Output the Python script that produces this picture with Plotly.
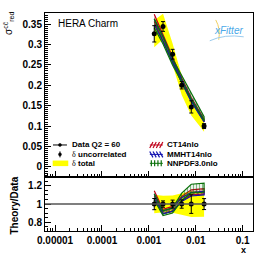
import plotly.graph_objects as go
import numpy as np

# ---------------- data ----------------
x_vals = [0.0013, 0.002, 0.0032, 0.005, 0.008, 0.015]
data_sigma = [0.326, 0.344, 0.276, 0.200, 0.147, 0.100]
err_uncorr = [0.020, 0.012, 0.012, 0.009, 0.015, 0.006]
err_total = [0.033, 0.031, 0.026, 0.024, 0.021, 0.014]

ct14 = [0.365, 0.316, 0.262, 0.212, 0.166, 0.114]
ct14_err = [0.009, 0.008, 0.007, 0.005, 0.004, 0.003]
mmht = [0.355, 0.313, 0.259, 0.210, 0.163, 0.112]
mmht_err = [0.007, 0.006, 0.005, 0.004, 0.003, 0.002]
nnpdf = [0.352, 0.310, 0.257, 0.216, 0.172, 0.118]
nnpdf_err = [0.011, 0.009, 0.008, 0.008, 0.007, 0.005]

y_ticks_top = [0, 0.05, 0.1, 0.15, 0.2, 0.25, 0.3, 0.35]
y_ticktext_top = ["0", "0.05", "0.1", "0.15", "0.2", "0.25", "0.3", "0.35"]
y_ticks_bot = [0.8, 1.0, 1.2]
y_ticktext_bot = ["0.8", "1", "1.2"]
x_ticks = [1e-5, 1e-4, 1e-3, 1e-2, 1e-1]
x_ticktext = ["0.00001", "0.0001", "0.001", "0.01", "0.1"]

# ---------------- layout helpers ----------------
W, H = 266, 258
L, R, T, B = 45, 253.3, 12, 231.7
SPLIT = 177


def px(xp):
    return (xp - L) / (R - L)


def py(yp):
    return (B - yp) / (B - T)


SANS = "Liberation Sans"
RED = "#c0001a"
BLUE = "#1010b0"
GREEN = "#0a700a"
YELLOW = "#ffff00"

xs = np.array(x_vals)
d = np.array(data_sigma)
eu = np.array(err_uncorr)
et = np.array(err_total)

fig = go.Figure()


def band(xa, ya, yerr, xaxis, yaxis, color, shape, fill_color=None, solidity=0.45):
    xa = np.asarray(xa)
    lo = np.asarray(ya) - np.asarray(yerr)
    hi = np.asarray(ya) + np.asarray(yerr)
    fig.add_trace(go.Scatter(
        x=np.concatenate([xa, xa[::-1]]).tolist(),
        y=np.concatenate([hi, lo[::-1]]).tolist(),
        mode="lines", fill="toself",
        fillcolor=fill_color if fill_color else "rgba(0,0,0,0)",
        fillpattern=dict(shape=shape, fgcolor=color, bgcolor="rgba(0,0,0,0)",
                         size=3, solidity=solidity),
        line=dict(color=color, width=1.2),
        xaxis=xaxis, yaxis=yaxis, showlegend=False, hoverinfo="skip"))


# ---- top panel ----
fig.add_trace(go.Scatter(
    x=np.concatenate([xs, xs[::-1]]).tolist(),
    y=np.concatenate([d + et, (d - et)[::-1]]).tolist(),
    mode="lines", fill="toself", fillcolor=YELLOW, line=dict(width=0, color=YELLOW),
    xaxis="x2", yaxis="y2", showlegend=False, hoverinfo="skip"))
band(xs, ct14, ct14_err, "x2", "y2", RED, "/", fill_color="rgba(192,0,26,0.35)", solidity=0.6)
band(xs, mmht, mmht_err, "x2", "y2", BLUE, "\\", fill_color="rgba(16,16,176,0.35)", solidity=0.6)
band(xs, nnpdf, nnpdf_err, "x2", "y2", GREEN, "|", fill_color="rgba(10,112,10,0.85)", solidity=0.6)
fig.add_trace(go.Scatter(
    x=xs.tolist(), y=d.tolist(), mode="markers",
    marker=dict(color="black", size=5),
    error_y=dict(type="data", array=eu.tolist(), color="black", thickness=1, width=2),
    xaxis="x2", yaxis="y2", showlegend=False))

# ---- ratio panel ----
fig.add_trace(go.Scatter(
    x=np.concatenate([xs, xs[::-1]]).tolist(),
    y=np.concatenate([1 + et / d, (1 - et / d)[::-1]]).tolist(),
    mode="lines", fill="toself", fillcolor=YELLOW, line=dict(width=0, color=YELLOW),
    xaxis="x", yaxis="y", showlegend=False, hoverinfo="skip"))
band(xs, np.array(ct14) / d, np.array(ct14_err) / d, "x", "y", RED, "/")
band(xs, np.array(mmht) / d, np.array(mmht_err) / d, "x", "y", BLUE, "\\")
band(xs, np.array(nnpdf) / d, np.array(nnpdf_err) / d, "x", "y", GREEN, "|")
fig.add_trace(go.Scatter(
    x=xs.tolist(), y=[1.0] * len(xs), mode="markers",
    marker=dict(color="black", size=5),
    error_y=dict(type="data", array=(eu / d).tolist(), color="black", thickness=1, width=2),
    xaxis="x", yaxis="y", showlegend=False))

xr = [float(np.log10(6.1e-6)), float(np.log10(0.1655))]
minor_x = [float(m * 10.0 ** e) for e in range(-6, 0) for m in range(2, 10)
           if xr[0] < np.log10(m * 10.0 ** e) < xr[1]]

axis_common = dict(showline=True, linecolor="black", linewidth=1, mirror=True,
                   ticks="inside", tickcolor="black", showgrid=False, zeroline=False)
tickfont = dict(family=SANS, size=10, color="black", weight="bold")

split_frac = py(SPLIT)

fig.update_layout(
    width=W, height=H,
    margin=dict(l=L, r=W - R, t=T, b=H - B, pad=0),
    paper_bgcolor="white", plot_bgcolor="white",
    showlegend=False,
    xaxis=dict(type="log", range=xr, domain=[0, 1], anchor="y",
               tickvals=x_ticks, ticktext=x_ticktext, ticklen=6, tickfont=tickfont,
               minor=dict(tickvals=minor_x, ticklen=3, ticks="inside", tickcolor="black"),
               **axis_common),
    yaxis=dict(range=[0.705, 1.30], domain=[0, split_frac], anchor="x",
               tickvals=y_ticks_bot, ticktext=y_ticktext_bot, ticklen=6, tickfont=tickfont,
               minor=dict(dtick=0.05, ticklen=3, ticks="inside", tickcolor="black"),
               **axis_common),
    xaxis2=dict(type="log", range=xr, domain=[0, 1], anchor="y2", matches="x",
                tickvals=x_ticks, showticklabels=False, ticklen=6,
                minor=dict(tickvals=minor_x, ticklen=3, ticks="inside", tickcolor="black"),
                **axis_common),
    yaxis2=dict(range=[-0.024, 0.377], domain=[split_frac, 1], anchor="x2",
                tickvals=y_ticks_top, ticktext=y_ticktext_top, ticklen=6, tickfont=tickfont,
                minor=dict(dtick=0.005, ticklen=3, ticks="inside", tickcolor="black"),
                **axis_common),
)

# reference line at ratio 1
fig.add_shape(type="line", xref="x domain", yref="y", x0=0, x1=1, y0=1, y1=1,
              line=dict(color="#555555", width=1.5), layer="above")

ann = []
ann.append(dict(text="HERA Charm", x=px(56), y=py(23), xanchor="left", yanchor="middle",
                font=dict(family=SANS, size=10, color="black")))
ann.append(dict(text="σ<sup>cc̄</sup><sub>red</sub>", x=px(9), y=py(23), textangle=-90,
                xanchor="center", yanchor="middle",
                font=dict(family=SANS, size=10, color="black")))
ann.append(dict(text="<b>Theory/Data</b>", x=px(14), y=py(206), textangle=-90,
                xanchor="center", yanchor="middle",
                font=dict(family=SANS, size=10, color="black")))
ann.append(dict(text="<b>x</b>", x=px(244), y=py(251), xanchor="center", yanchor="middle",
                font=dict(family=SANS, size=9, color="black")))
ann.append(dict(text="<i>xFitter</i>", x=px(229), y=py(30), xanchor="center", yanchor="middle",
                font=dict(family=SANS, size=10, color="#4aa8e8")))

# left legend
rows = [145, 154.5, 163.5]
ann.append(dict(text="<b>Data Q2 = 60</b>", x=px(70), y=py(rows[0]), xanchor="left",
                yanchor="middle", font=dict(family=SANS, size=8, color="black")))
ann.append(dict(text="<span style='font-family:Liberation Serif'>δ</span> <b>uncorrelated</b>",
                x=px(70), y=py(rows[1]), xanchor="left", yanchor="middle",
                font=dict(family=SANS, size=8, color="black")))
ann.append(dict(text="<span style='font-family:Liberation Serif'>δ</span> <b>total</b>",
                x=px(70), y=py(rows[2]), xanchor="left", yanchor="middle",
                font=dict(family=SANS, size=8, color="black")))
# right legend
for name, r in zip(["CT14nlo", "MMHT14nlo", "NNPDF3.0nlo"], rows):
    ann.append(dict(text="<b>%s</b>" % name, x=px(165), y=py(r), xanchor="left",
                    yanchor="middle", font=dict(family=SANS, size=8, color="black")))

for a in ann:
    a.update(xref="paper", yref="paper", showarrow=False)
fig.update_layout(annotations=ann)

shapes = []
shapes.append(dict(type="line", x0=px(53), x1=px(67), y0=py(rows[0]), y1=py(rows[0]),
                   line=dict(color="black", width=1)))
shapes.append(dict(type="circle", x0=px(58.5), x1=px(61.5), y0=py(rows[0] + 1.5), y1=py(rows[0] - 1.5),
                   fillcolor="black", line=dict(color="black", width=0.5)))
shapes.append(dict(type="line", x0=px(60), x1=px(60), y0=py(rows[1] + 3), y1=py(rows[1] - 3),
                   line=dict(color="black", width=1)))
shapes.append(dict(type="circle", x0=px(58.5), x1=px(61.5), y0=py(rows[1] + 1.5), y1=py(rows[1] - 1.5),
                   fillcolor="black", line=dict(color="black", width=0.5)))
shapes.append(dict(type="rect", x0=px(52.7), x1=px(68.3), y0=py(rows[2] + 2.8), y1=py(rows[2] - 2.8),
                   fillcolor=YELLOW, line=dict(width=0)))
for color, r, kind in [(RED, rows[0], "/"), (BLUE, rows[1], "\\"), (GREEN, rows[2], "|")]:
    shapes.append(dict(type="line", x0=px(150), x1=px(163), y0=py(r), y1=py(r),
                       line=dict(color=color, width=1)))
    for i in range(4):
        cx = 151.5 + i * 3.3
        if kind == "/":
            x0, x1, y0, y1 = cx - 1.6, cx + 1.6, r + 3, r - 3
        elif kind == "\\":
            x0, x1, y0, y1 = cx - 1.6, cx + 1.6, r - 3, r + 3
        else:
            x0 = x1 = cx
            y0, y1 = r - 3, r + 3
        shapes.append(dict(type="line", x0=px(x0), x1=px(x1), y0=py(y0), y1=py(y1),
                           line=dict(color=color, width=1.2)))
shapes.append(dict(type="path", path="M %f,%f Q %f,%f %f,%f" % (px(216), py(19), px(221), py(28), px(219), py(39)),
                   line=dict(color="#f0d060", width=1)))
shapes.append(dict(type="path", path="M %f,%f Q %f,%f %f,%f" % (px(210), py(40), px(225), py(33), px(244), py(36)),
                   line=dict(color="#9cccee", width=1)))
for s in shapes:
    s.update(xref="paper", yref="paper")
    fig.add_shape(**s)

fig.write_html("out.html", config={"displayModeBar": False, "staticPlot": True},
               post_script="document.body.style.margin='0';")
